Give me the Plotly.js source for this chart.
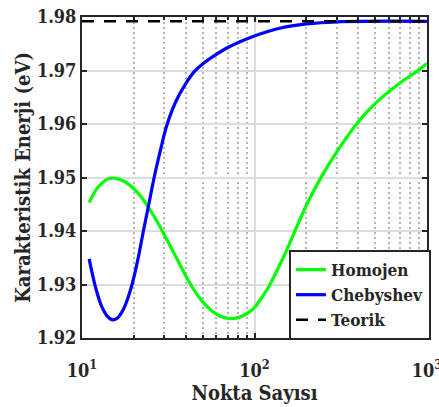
<!DOCTYPE html>
<html><head><meta charset="utf-8">
<script src="https://cdn.plot.ly/plotly-3.0.1.min.js"></script>
<style>html,body{margin:0;padding:0;background:#fff}</style>
</head><body><div id="chart" style="width:439px;height:407px"></div>
<script>
const seriesNames = ['Homojen', 'Chebyshev', 'Teorik'];
const homojenX = [11, 12, 13, 14, 15, 16, 17, 18, 20, 22, 24.4, 27, 30, 35, 40, 45, 50, 56, 63, 72, 82, 92, 100, 110, 122, 137, 153, 168, 183, 210, 246, 300, 380, 450, 532, 650, 750, 889, 1000];
const homojenY = [1.9453, 1.9476, 1.9489, 1.9497, 1.9499, 1.9498, 1.9495, 1.9491, 1.9479, 1.9464, 1.9443, 1.9420, 1.9393, 1.9352, 1.9316, 1.9288, 1.9268, 1.9252, 1.9241, 1.9236, 1.9239, 1.9247, 1.9257, 1.9275, 1.9298, 1.9330, 1.9363, 1.9393, 1.9421, 1.9462, 1.9503, 1.9548, 1.9595, 1.9623, 1.9646, 1.9669, 1.9684, 1.9700, 1.9713];
const chebyshevX = [11, 12, 13, 14, 15, 16, 17, 18, 19.5, 21, 22.7, 24.4, 26.2, 28.5, 31, 35, 40, 44.5, 50, 60, 70, 80, 90, 112, 140, 200, 300, 1000];
const chebyshevY = [1.9348, 1.9294, 1.9259, 1.9241, 1.9234, 1.9237, 1.9248, 1.9265, 1.9300, 1.9344, 1.9400, 1.9450, 1.9500, 1.9551, 1.9597, 1.9642, 1.9676, 1.9697, 1.9712, 1.9730, 1.9743, 1.9752, 1.9759, 1.9770, 1.9779, 1.9787, 1.9791, 1.9792];
const teorikX = [10, 1000];
const teorikY = [1.9792, 1.9792];
const xTickVals = [10, 100, 1000];
const xTickText = ['10<sup>1</sup>', '10<sup>2</sup>', '10<sup>3</sup>'];
const xMinorVals = [20, 30, 40, 50, 60, 70, 80, 90, 200, 300, 400, 500, 600, 700, 800, 900];

const ink = '#262626';
const fam = '"DejaVu Serif Condensed", "DejaVu Serif", serif';
function f(size) { return {family: fam, weight: 'bold', color: ink, size: size}; }

const traces = [
  {x: homojenX, y: homojenY, name: seriesNames[0], mode: 'lines', line: {color: '#00ff00', width: 3.2, shape: 'spline', smoothing: 1}},
  {x: chebyshevX, y: chebyshevY, name: seriesNames[1], mode: 'lines', line: {color: '#0000ff', width: 3.2, shape: 'spline', smoothing: 1}},
  {x: teorikX, y: teorikY, name: seriesNames[2], mode: 'lines', line: {color: '#000000', width: 2.6, dash: '12px,10px'}}
];

const layout = {
  width: 439, height: 407,
  margin: {l: 82, r: 12, t: 17, b: 69, autoexpand: false},
  paper_bgcolor: '#fff', plot_bgcolor: '#fff',
  showlegend: true,
  font: f(18),
  xaxis: {
    type: 'log', range: [1, 3],
    tickvals: xTickVals, ticktext: xTickText,
    tickfont: f(18), ticklabeloverflow: 'allow', ticklabelstandoff: 15,
    title: {text: 'Nokta Sayısı', font: f(20), standoff: 3},
    showline: true, linecolor: ink, linewidth: 2, mirror: 'ticks',
    ticks: 'inside', ticklen: 5, tickwidth: 2, tickcolor: ink,
    showgrid: true, gridcolor: '#dcdcdc', gridwidth: 2,
    zeroline: false,
    minor: {tickvals: xMinorVals, showgrid: true, gridcolor: '#b4b4b4', gridwidth: 2, griddash: '2px,3px', ticks: 'inside', ticklen: 3, tickwidth: 2, tickcolor: ink}
  },
  yaxis: {
    range: [1.92, 1.98], dtick: 0.01, tick0: 1.92, tickformat: '.2f',
    tickfont: f(18),
    title: {text: 'Karakteristik Enerji (eV)', font: f(20), standoff: 1},
    showline: true, linecolor: ink, linewidth: 2, mirror: 'ticks',
    ticks: 'inside', ticklen: 5, tickwidth: 2, tickcolor: ink,
    showgrid: true, gridcolor: '#dcdcdc', gridwidth: 2,
    zeroline: false
  },
  legend: {
    x: 0.6, y: 0.274, xanchor: 'left', yanchor: 'top',
    bgcolor: '#fff', bordercolor: ink, borderwidth: 2,
    font: f(17),
    tracegroupgap: 0
  }
};

Plotly.newPlot('chart', traces, layout, {displayModeBar: false, staticPlot: true});
</script>
</body></html>
